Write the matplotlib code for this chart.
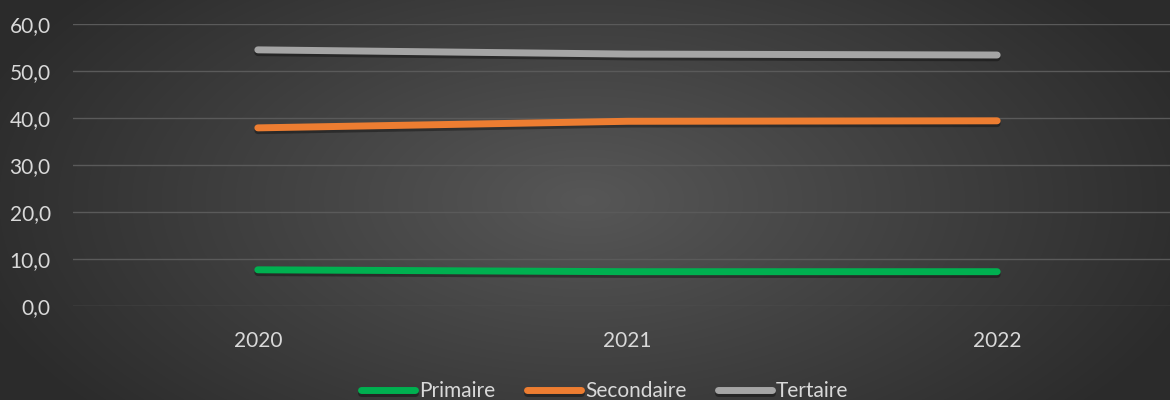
import numpy as np
import matplotlib.pyplot as plt
import matplotlib.patheffects as pe

annees = ['2020', '2021', '2022']
primaire = [7.7, 7.3, 7.3]
secondaire = [37.9, 39.3, 39.4]
tertaire = [54.5, 53.6, 53.4]

couleurs = ['#00b050', '#ed7d31', '#a5a5a5']
noms = ['Primaire', 'Secondaire', 'Tertaire']

plt.rcParams['font.family'] = ['Lato', 'DejaVu Sans']

fig = plt.figure(figsize=(11.7, 4.0), dpi=100)

# fond en degrade radial facon Excel
bg = fig.add_axes([0, 0, 1, 1])
yy, xx = np.mgrid[0:400, 0:1170]
d = np.sqrt(((xx - 585) / 640.0) ** 2 + ((yy - 200) / 330.0) ** 2)
v = 0.34 - 0.17 * np.clip(d, 0, 1)
bg.imshow(np.dstack([v, v, v]), aspect='auto', extent=[0, 1, 0, 1])
bg.set_axis_off()

ax = fig.add_axes([73 / 1170, 94 / 400, 1109 / 1170, 282 / 400])
ax.patch.set_alpha(0)
x = np.arange(len(annees))
ombre = [pe.SimpleLineShadow(offset=(0, -2), shadow_color='black', alpha=0.35), pe.Normal()]
for serie, c, n in zip([primaire, secondaire, tertaire], couleurs, noms):
    ax.plot(x, serie, color=c, lw=5, solid_capstyle='round', label=n, path_effects=ombre)

ax.set_xlim(-0.5, 2.5)
ax.set_ylim(0, 60)
ax.set_yticks(range(0, 61, 10))
ax.set_yticklabels([f'{t},0' for t in range(0, 61, 10)])
ax.set_xticks(x)
ax.set_xticklabels(annees)
ax.grid(axis='y', color='#5a5a5a', lw=1)
ax.set_axisbelow(True)
for s in ax.spines.values():
    s.set_visible(False)
ax.tick_params(length=0, colors='#d9d9d9', labelsize=15)
ax.tick_params(axis='x', pad=18)
ax.tick_params(axis='y', pad=16)

leg = fig.legend(loc='center', bbox_to_anchor=(0.517, 0.022), ncol=3, frameon=False,
                 fontsize=15, handlelength=2.6, handletextpad=0.2, columnspacing=1.5,
                 labelcolor='#d9d9d9')
for h in leg.get_lines():
    h.set_linewidth(5)
    h.set_solid_capstyle('round')

fig.savefig('out.png', dpi=100)
